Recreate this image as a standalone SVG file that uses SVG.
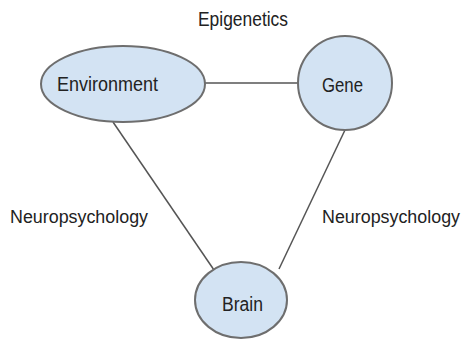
<svg xmlns="http://www.w3.org/2000/svg" width="466" height="342" viewBox="0 0 466 342">
<style>
.node{fill:#d3e3f3;stroke:#6e6e6e;stroke-width:2}
.edge{stroke:#555;stroke-width:1.5;fill:none}
text{font-family:"Liberation Sans",Arial,sans-serif;fill:#222;font-size:20px}
.lbl{font-size:18px}
</style>
<rect width="466" height="342" fill="#fff"/>
<g id="connectors">
<line class="edge" x1="205" y1="83" x2="298" y2="83"/>
<line class="edge" x1="113" y1="122" x2="214" y2="270"/>
<line class="edge" x1="345" y1="130" x2="279" y2="269"/>
</g>
<g id="environment">
<ellipse class="node" cx="123" cy="84" rx="82" ry="38"/>
<text x="57" y="91" textLength="101" lengthAdjust="spacingAndGlyphs">Environment</text>
</g>
<g id="gene">
<circle class="node" cx="345" cy="83" r="47"/>
<text x="322" y="92" textLength="41" lengthAdjust="spacingAndGlyphs">Gene</text>
</g>
<g id="brain">
<ellipse class="node" cx="241" cy="300" rx="46" ry="38"/>
<text x="222" y="311" textLength="41" lengthAdjust="spacingAndGlyphs">Brain</text>
</g>
<g id="labels">
<text x="198" y="26" textLength="90" lengthAdjust="spacingAndGlyphs">Epigenetics</text>
<text class="lbl" x="10" y="223" textLength="138" lengthAdjust="spacingAndGlyphs">Neuropsychology</text>
<text class="lbl" x="322" y="223" textLength="138" lengthAdjust="spacingAndGlyphs">Neuropsychology</text>
</g>
</svg>
